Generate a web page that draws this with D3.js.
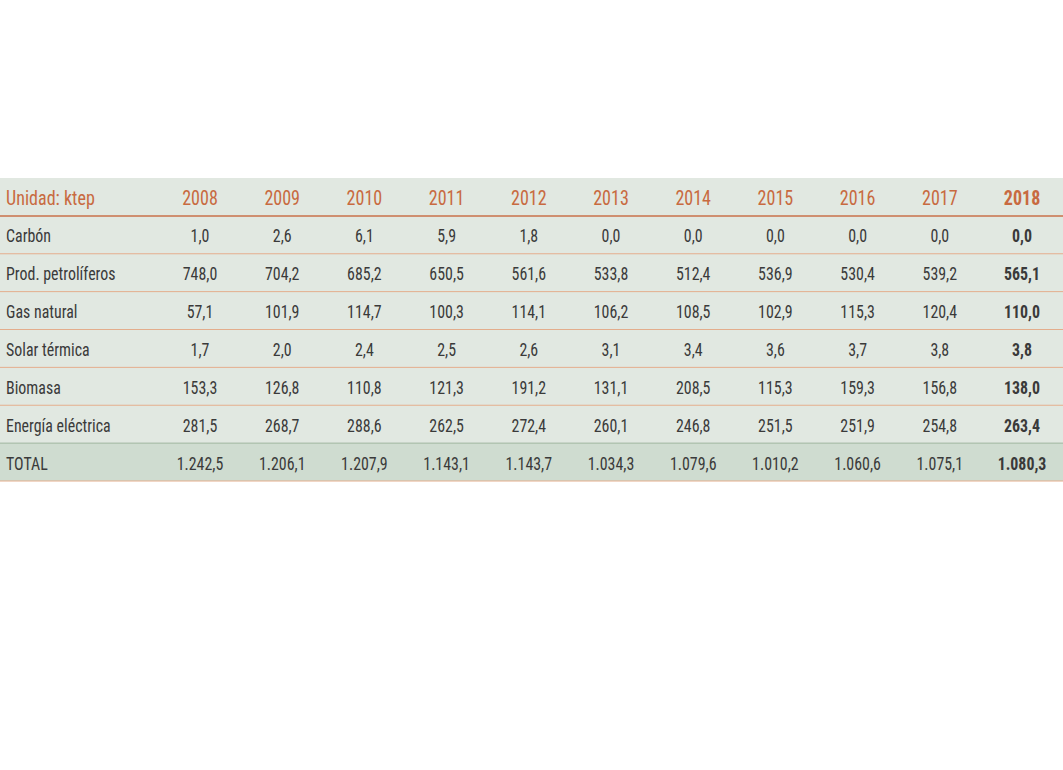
<!DOCTYPE html>
<html><head><meta charset="utf-8">
<script src="https://cdn.jsdelivr.net/npm/d3@7"></script>
<style>body{margin:0;background:#fff}</style>
</head><body><div id="plot"></div>
<script>
var years = ['2008','2009','2010','2011','2012','2013','2014','2015','2016','2017','2018'];
var rowLabels = ['Carbón','Prod. petrolíferos','Gas natural','Solar térmica','Biomasa','Energía eléctrica','TOTAL'];
var values = [
	[1.0,2.6,6.1,5.9,1.8,0.0,0.0,0.0,0.0,0.0,0.0],
	[748.0,704.2,685.2,650.5,561.6,533.8,512.4,536.9,530.4,539.2,565.1],
	[57.1,101.9,114.7,100.3,114.1,106.2,108.5,102.9,115.3,120.4,110.0],
	[1.7,2.0,2.4,2.5,2.6,3.1,3.4,3.6,3.7,3.8,3.8],
	[153.3,126.8,110.8,121.3,191.2,131.1,208.5,115.3,159.3,156.8,138.0],
	[281.5,268.7,288.6,262.5,272.4,260.1,246.8,251.5,251.9,254.8,263.4],
	[1242.5,1206.1,1207.9,1143.1,1143.7,1034.3,1079.6,1010.2,1060.6,1075.1,1080.3]
];

var width = 1063, height = 770;
var svg = d3.select('#plot').append('svg').attr('width',width).attr('height',height)
	.style('font-family','"Roboto Condensed", Roboto, sans-serif');

var fmt = d3.formatLocale({decimal:',',thousands:'.',grouping:[3],currency:['','']}).format(',.1f');

var x = d3.scalePoint().domain(years).range([200,1022]);
var y = d3.scaleBand().domain(['head'].concat(rowLabels)).range([178,481]).paddingInner(0);
var sx = 0.86;

// backgrounds
svg.selectAll('rect.bg').data(['head'].concat(rowLabels)).enter().append('rect')
	.attr('x',0).attr('width',width).attr('y',d=>y(d)).attr('height',y.bandwidth())
	.attr('fill',d=>d=='TOTAL'?'#cfdcd0':'#e1e8e1');

// separators
svg.selectAll('line.sep').data(rowLabels).enter().append('line')
	.attr('x1',0).attr('x2',width)
	.attr('y1',d=>y(d)+y.bandwidth()).attr('y2',d=>y(d)+y.bandwidth())
	.attr('stroke',d=>d=='Energía eléctrica'?'#9fb59f':'#e3ad8c').attr('stroke-width',1);
svg.append('line').attr('x1',0).attr('x2',width).attr('y1',y(rowLabels[0])).attr('y2',y(rowLabels[0]))
	.attr('stroke','#c8704a').attr('stroke-width',1.5);

function txt(s,tx,ty,anchor,color,weight,size){
	svg.append('text').attr('transform','translate('+tx+','+ty+') scale('+sx+',1)')
		.attr('text-anchor',anchor).attr('fill',color).attr('font-weight',weight)
		.attr('font-size',size).attr('dy','0.35em').text(s);
}

var hy = y('head')+y.bandwidth()/2+1;
txt('Unidad: ktep',6,hy,'start','#c86a40',400,21);
years.forEach(function(yr,i){
	txt(yr,x(yr),hy,'middle','#c86a40',i==years.length-1?700:400,21);
});

rowLabels.forEach(function(r,ri){
	var cy = y(r)+y.bandwidth()/2+1;
	txt(r,6,cy,'start','#3a3a3a',400,18.5);
	years.forEach(function(yr,i){
		txt(fmt(values[ri][i]),x(yr),cy,'middle','#3a3a3a',i==years.length-1?700:400,18.5);
	});
});
</script></body></html>
